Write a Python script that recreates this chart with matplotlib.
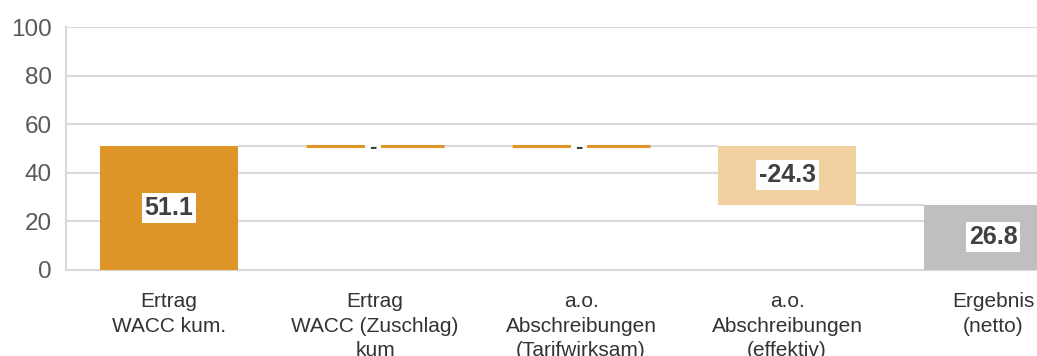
import numpy as np
import matplotlib.pyplot as plt

plt.rcParams['font.family'] = ['Liberation Sans', 'DejaVu Sans']

# waterfall data
categories = ['Ertrag\nWACC kum.', 'Ertrag\nWACC (Zuschlag)\nkum',
              'a.o.\nAbschreibungen\n(Tarifwirksam)', 'a.o.\nAbschreibungen\n(effektiv)',
              'Ergebnis\n(netto)']
values = [51.1, 0.0, 0.0, -24.3, 26.8]
is_total = [True, False, False, False, True]
labels = ['51.1', '-', '-', '-24.3', '26.8']

orange = '#df9428'
peach = '#f2d1a1'
grey_bar = '#bfbfbf'
grid_c = '#d9d9d9'
txt_c = '#404040'


def main():
    fig = plt.figure(figsize=(10.37, 3.56), dpi=100)
    ax = fig.add_axes([66/1037, 86/356, 1030/1037, 243/356])

    x = np.arange(len(values))
    w = 0.67

    bottoms, tops = [], []
    run = 0.0
    for v, tot in zip(values, is_total):
        if tot:
            bottoms.append(0.0)
            tops.append(v)
            run = v
        else:
            bottoms.append(min(run, run + v))
            tops.append(max(run, run + v))
            run = run + v
    ends = [t if tot else bottoms[i] if values[i] < 0 else tops[i]
            for i, (t, tot) in enumerate(zip(tops, is_total))]

    for i, v in enumerate(values):
        if i == 0:
            c = orange
        elif is_total[i]:
            c = grey_bar
        elif v < 0:
            c = peach
        else:
            c = orange
        h = tops[i] - bottoms[i]
        if h == 0:
            ax.hlines(bottoms[i], x[i] - w/2, x[i] + w/2, color=orange, lw=2.2, zorder=3)
        else:
            ax.bar(x[i], h, bottom=bottoms[i], width=w, color=c, zorder=3)

    # connectors between bars
    for i in range(len(values) - 1):
        ax.hlines(ends[i], x[i] + w/2, x[i+1] - w/2, color=grid_c, lw=1.5, zorder=2)

    # value labels
    for i, lab in enumerate(labels):
        ymid = (tops[i] + bottoms[i]) / 2
        if lab == '-':
            ax.text(x[i] - 0.01, ymid - 0.8, lab, ha='center', va='center', fontsize=16,
                    fontweight='bold', color=txt_c, zorder=5,
                    bbox=dict(boxstyle='square,pad=0.2', fc='white', ec='none'))
        else:
            ax.text(x[i], ymid, lab, ha='center', va='center', fontsize=18,
                    fontweight='bold', color=txt_c, zorder=5,
                    bbox=dict(boxstyle='square,pad=0.12', fc='white', ec='none'))

    ax.set_xlim(-0.5, len(values) - 0.5)
    ax.set_ylim(0, 100)
    ax.set_yticks(np.arange(0, 101, 20))
    ax.set_xticks(x)
    ax.set_xticklabels(categories, fontsize=15, color='#333333', linespacing=1.36)
    ax.tick_params(axis='y', labelsize=17.5, labelcolor='#595959', length=0, pad=10)
    ax.tick_params(axis='x', length=0, pad=16)
    ax.grid(axis='y', color=grid_c, lw=1.5, zorder=0)
    ax.set_axisbelow(True)
    for s in ['top', 'right']:
        ax.spines[s].set_visible(False)
    for s in ['left', 'bottom']:
        ax.spines[s].set_color(grid_c)
        ax.spines[s].set_linewidth(1.5)

    fig.savefig('out.png', dpi=100)


if __name__ == "__main__":
    main()
